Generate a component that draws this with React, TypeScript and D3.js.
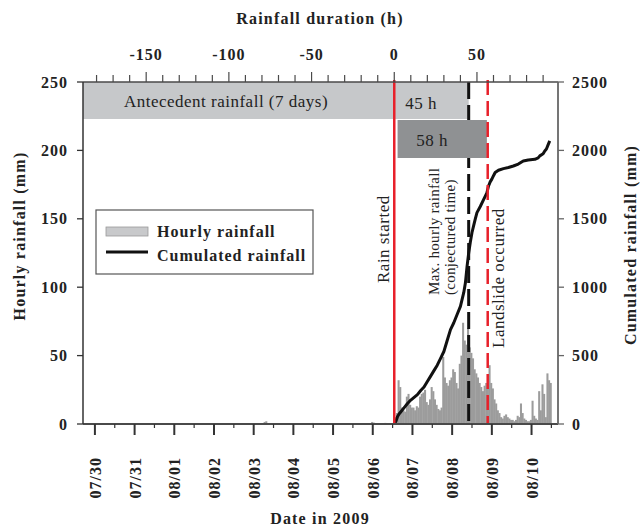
import React from "react";
import * as d3 from "d3";

// ---- data ----
const hourlyRain = [5, 8, 32, 27, 12, 10, 9, 20, 22, 14, 12, 12, 10, 13, 12, 20, 22, 23, 25, 16, 14, 18, 27, 24, 18, 14, 11, 10, 12, 49, 34, 30, 28, 32, 34, 40, 38, 30, 26, 44, 50, 74, 61, 58, 70, 56, 52, 48, 40, 37, 34, 30, 27, 24, 28, 30, 26, 43, 30, 26, 18, 15, 10, 8, 5, 4, 6, 7, 5, 4, 3, 3, 2, 3, 6, 5, 15, 8, 4, 3, 2, 2, 3, 17, 6, 4, 3, 24, 10, 29, 22, 5, 37, 32, 30];
const antecedentHours = [-79, -78, -50, -14, -13, -6];
const antecedentRain = [1.5, 2, 0.8, 1.5, 1, 0.8];
const cumHours = [0, 1, 2, 3, 4, 6, 8, 10, 12, 14, 16, 18, 20, 22, 24, 26, 28, 30, 32, 34, 36, 38, 40, 42, 43, 44, 45, 46, 47, 48, 49, 50, 52, 54, 56, 57, 58, 59, 60, 61, 63, 66, 69, 72, 75, 78, 81, 85, 87, 88, 90, 91, 92, 93, 94];
const cumRain = [0, 20, 55, 75, 90, 120, 150, 175, 195, 215, 245, 270, 310, 350, 390, 430, 480, 530, 610, 690, 740, 800, 860, 960, 1030, 1150, 1250, 1330, 1400, 1450, 1500, 1545, 1590, 1640, 1690, 1740, 1770, 1790, 1815, 1838, 1855, 1867, 1875, 1886, 1900, 1923, 1930, 1935, 1945, 1960, 1975, 1996, 2010, 2040, 2070];
const dateLabels = ["07/30", "07/31", "08/01", "08/02", "08/03", "08/04", "08/05", "08/06", "08/07", "08/08", "08/09", "08/10"];
const firstMidnightAfterStart = 11; // 08/07 00:00 relative to rain start (h)
const indexOfFirstMidnight = 8;
const topMajorTicks = [-150, -100, -50, 0, 50];
const leftTicks = [0, 50, 100, 150, 200, 250];
const rightTicks = [0, 500, 1000, 1500, 2000, 2500];
const maxRainHour = 45;
const landslideHour = 56.5;
const box58Range = [2, 56];

const W = 640, H = 528;
const L = 83, R = 558, T = 82, B = 424;
const serif = "'Liberation Serif', 'Times New Roman', serif";
const axisColor = "#4a4a4a";

export default function App() {
  const x = d3.scaleLinear().domain([-188.2, 99]).range([L, R]);
  const y = d3.scaleLinear().domain([0, 250]).range([B, T]);
  const y2 = d3.scaleLinear().domain([0, 2500]).range([B, T]);
  const minorTop = d3.range(-180, 100, 10);
  const dateHours = dateLabels.map((_, i) => firstMidnightAfterStart + 24 * (i - indexOfFirstMidnight));
  const minorDate = dateHours.map((h) => h + 12).filter((h) => x(h) < R);
  const line = d3.line<number>().x((_, i) => x(cumHours[i])).y((d) => y2(d));

  const tickFont = { fontFamily: serif, fontWeight: 700, fontSize: 16, letterSpacing: 1, fill: "#222" } as const;
  const titleFont = { fontFamily: serif, fontWeight: 700, fontSize: 16, letterSpacing: 1.2, fill: "#222" } as const;
  const plainFont = { fontFamily: serif, fontWeight: 400, fill: "#222" } as const;

  return (
    <svg width={W} height={H} style={{ position: "absolute", left: 0, top: 0, background: "#fff" }}>
      {/* antecedent box */}
      <rect x={L} y={T} width={x(maxRainHour) - L} height={119 - T} fill="#c6c8ca" />
      {/* hourly bars */}
      {hourlyRain.map((v, i) => (
        <rect key={"b" + i} x={x(i)} y={y(v)} width={x(i + 1) - x(i) + 0.4} height={B - y(v)} fill="#9c9c9c" />
      ))}
      {antecedentHours.map((h, i) => (
        <rect key={"a" + i} x={x(h)} y={y(antecedentRain[i])} width={x(h + 1) - x(h) + 0.4} height={B - y(antecedentRain[i])} fill="#9c9c9c" />
      ))}
      {/* cumulative curve */}
      <path d={line(cumRain) || ""} fill="none" stroke="#111" strokeWidth={3} strokeLinejoin="round" />
      {/* black dashed */}
      <line x1={x(maxRainHour)} x2={x(maxRainHour)} y1={T} y2={B} stroke="#111" strokeWidth={3} strokeDasharray="17 6" />
      {/* 58 h box */}
      <rect x={x(box58Range[0])} y={120} width={x(box58Range[1]) - x(box58Range[0])} height={38} fill="#8f9193" />
      {/* red lines */}
      <line x1={x(0)} x2={x(0)} y1={T - 2} y2={B} stroke="#e8202a" strokeWidth={2.5} />
      <line x1={x(landslideHour)} x2={x(landslideHour)} y1={T - 2} y2={B} stroke="#e8202a" strokeWidth={2.5} strokeDasharray="15 6" />

      {/* box texts */}
      <text x={226} y={107} textAnchor="middle" style={{ ...plainFont, fontSize: 17, letterSpacing: 0.5 }}>Antecedent rainfall (7 days)</text>
      <text x={421} y={109} textAnchor="middle" style={{ ...plainFont, fontSize: 17, letterSpacing: 0.5 }}>45 h</text>
      <text x={432} y={146} textAnchor="middle" style={{ ...plainFont, fontSize: 17, letterSpacing: 0.5 }}>58 h</text>

      {/* vertical annotations */}
      <text transform={`translate(389,283) rotate(-90)`} style={{ ...plainFont, fontSize: 17, letterSpacing: 0.5 }}>Rain started</text>
      <text transform={`translate(439,295) rotate(-90)`} style={{ ...plainFont, fontSize: 15, letterSpacing: 0.3 }}>Max. hourly rainfall</text>
      <text transform={`translate(455,295) rotate(-90)`} style={{ ...plainFont, fontSize: 15, letterSpacing: 0.3 }}>(conjectured time)</text>
      <text transform={`translate(504,348) rotate(-90)`} style={{ ...plainFont, fontSize: 17, letterSpacing: 0.5 }}>Landslide occurred</text>

      {/* frame */}
      <line x1={L} x2={R} y1={T} y2={T} stroke={axisColor} strokeWidth={1.5} />
      <line x1={L} x2={R} y1={B} y2={B} stroke={axisColor} strokeWidth={1.8} />
      <line x1={L} x2={L} y1={T} y2={B} stroke="#333" strokeWidth={1.5} />
      <line x1={R} x2={R} y1={T} y2={B} stroke="#666" strokeWidth={1.8} />

      {/* top axis */}
      {minorTop.map((h) => (
        <line key={"tm" + h} x1={x(h)} x2={x(h)} y1={T} y2={T - (h % 50 === 0 ? 10 : 7)} stroke={axisColor} strokeWidth={1.2} />
      ))}
      {topMajorTicks.map((h) => (
        <text key={"tl" + h} x={x(h)} y={60} textAnchor="middle" style={tickFont}>{h}</text>
      ))}
      <text x={320} y={24} textAnchor="middle" style={titleFont}>Rainfall duration (h)</text>

      {/* left axis */}
      {leftTicks.map((v) => (
        <g key={"l" + v}>
          <line x1={L} x2={L - 6} y1={y(v)} y2={y(v)} stroke="#333" strokeWidth={1.3} />
          <text x={68} y={y(v)} dy="0.35em" textAnchor="end" style={tickFont}>{v}</text>
        </g>
      ))}
      <text transform={`translate(25,236) rotate(-90)`} textAnchor="middle" style={titleFont}>Hourly rainfall (mm)</text>

      {/* right axis */}
      {rightTicks.map((v) => (
        <g key={"r" + v}>
          <line x1={R} x2={R + 6} y1={y2(v)} y2={y2(v)} stroke="#666" strokeWidth={1.3} />
          <text x={572} y={y2(v)} dy="0.35em" textAnchor="start" style={tickFont}>{v}</text>
        </g>
      ))}
      <text transform={`translate(636,245) rotate(-90)`} textAnchor="middle" style={titleFont}>Cumulated rainfall (mm)</text>

      {/* bottom axis */}
      {dateHours.map((h, i) => (
        <g key={"d" + i}>
          <line x1={x(h)} x2={x(h)} y1={B} y2={B + 11} stroke="#333" strokeWidth={2} />
          <text transform={`translate(${x(h) + 6},457) rotate(-90)`} textAnchor="end" style={tickFont}>{dateLabels[i]}</text>
        </g>
      ))}
      {minorDate.map((h) => (
        <line key={"md" + h} x1={x(h)} x2={x(h)} y1={B} y2={B + 4} stroke="#333" strokeWidth={1.2} />
      ))}
      <text x={320} y={524} textAnchor="middle" style={titleFont}>Date in 2009</text>

      {/* legend */}
      <rect x={96} y={210} width={217} height={64} fill="#fff" stroke="#555" strokeWidth={1.2} />
      <rect x={106} y={227} width={42} height={9} fill="#c8c9cb" stroke="#999" strokeWidth={0.8} />
      <text x={157} y={237} style={tickFont}>Hourly rainfall</text>
      <line x1={106} x2={148} y1={252} y2={252} stroke="#111" strokeWidth={3} />
      <text x={157} y={261} style={tickFont}>Cumulated rainfall</text>
    </svg>
  );
}
